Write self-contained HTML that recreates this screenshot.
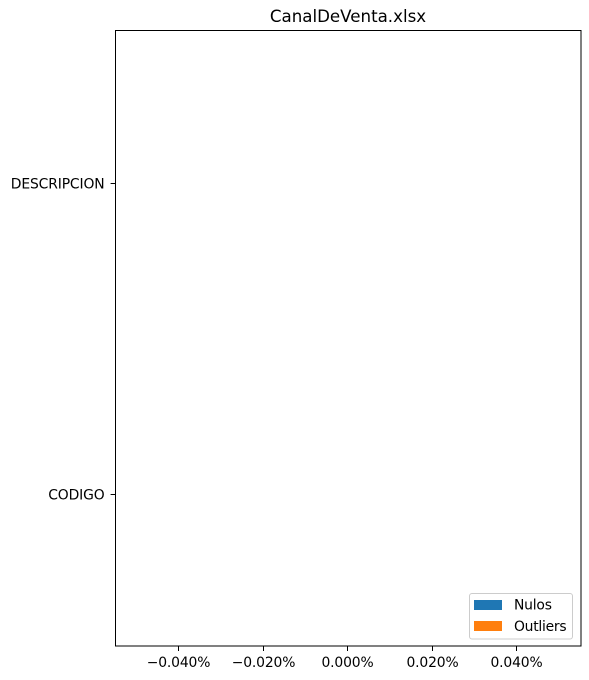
<!DOCTYPE html>
<html lang="es">
<head>
<meta charset="utf-8">
<title>CanalDeVenta.xlsx</title>
<style>
html,body{margin:0;padding:0;background:#fff;width:589px;height:680px;overflow:hidden}
svg{display:block}
text{font-family:"DejaVu Sans","Liberation Sans",sans-serif;fill:#000}
</style>
</head>
<body>
<svg id="chart" xmlns="http://www.w3.org/2000/svg" width="589" height="680" viewBox="0 0 589 680">
<rect x="0" y="0" width="589" height="680" fill="#fff"/>
<text x="348" y="22" font-size="16.67" text-anchor="middle">CanalDeVenta.xlsx</text>
<g id="bars"></g>
<g id="x-axis"></g>
<g id="y-axis"></g>
<rect x="115.5" y="30.5" width="465.5" height="615.5" fill="none" stroke="#000" stroke-width="1"/>
<g>
<rect x="469.5" y="593.5" width="103" height="45.5" rx="2.5" fill="#fff" fill-opacity="0.8" stroke="#ccc" stroke-width="1"/>
<rect x="474" y="600" width="28" height="10" fill="#1f77b4"/>
<text x="514" y="609.5" font-size="13.89" letter-spacing="-0.2">Nulos</text>
<rect x="474" y="621" width="28" height="10" fill="#ff7f0e"/>
<text x="514" y="631" font-size="13.89" letter-spacing="-0.25">Outliers</text>
</g>
</svg>
<script>
const categories = ["CODIGO", "DESCRIPCION"];
const nulos = [0, 0];
const outliers = [0, 0];
const xTicks = [-0.04, -0.02, 0, 0.02, 0.04];

const NS = "http://www.w3.org/2000/svg";
const xAxisScale = v => 347.75 + v * 4230;
const yAxisScale = i => 494 - i * 310.5;
const barBand = 0.8 * 310.5;

function xTickLabel(v) {
  const s = Math.abs(v).toFixed(3) + "%";
  return v < 0 ? "\u2212" + s : s;
}

const barsGroup = document.getElementById("bars");
const xGroup = document.getElementById("x-axis");
const yGroup = document.getElementById("y-axis");

categories.forEach((name, i) => {
  const yc = yAxisScale(i);

  const barN = document.createElementNS(NS, "rect");
  
  
  barN.setAttribute("x", Math.min(xAxisScale(0), xAxisScale(nulos[i])));
  barN.setAttribute("y", yc - barBand / 2);
  barN.setAttribute("width", Math.abs(xAxisScale(nulos[i]) - xAxisScale(0)));
  barN.setAttribute("height", barBand);
  barN.setAttribute("fill", "#1f77b4");
  barsGroup.appendChild(barN);

  const barO = document.createElementNS(NS, "rect");
  
  
  barO.setAttribute("x", Math.min(xAxisScale(nulos[i]), xAxisScale(nulos[i] + outliers[i])));
  barO.setAttribute("y", yc - barBand / 2);
  barO.setAttribute("width", Math.abs(xAxisScale(outliers[i]) - xAxisScale(0)));
  barO.setAttribute("height", barBand);
  barO.setAttribute("fill", "#ff7f0e");
  barsGroup.appendChild(barO);

  const py = Math.round(yc - 0.5) + 0.5;
  const tick = document.createElementNS(NS, "line");
  
  
  tick.setAttribute("x1", 110.6);
  tick.setAttribute("x2", 115.5);
  tick.setAttribute("y1", py);
  tick.setAttribute("y2", py);
  tick.setAttribute("stroke", "#000");
  tick.setAttribute("stroke-width", 1);
  yGroup.appendChild(tick);

  const label = document.createElementNS(NS, "text");
  
  
  label.setAttribute("x", 104.5);
  label.setAttribute("y", py + 5);
  label.setAttribute("font-size", 13.89);
  label.setAttribute("letter-spacing", -0.13);
  label.setAttribute("text-anchor", "end");
  label.textContent = name;
  yGroup.appendChild(label);
});

xTicks.forEach(v => {
  const px = Math.round(xAxisScale(v) - 0.5) + 0.5;
  const tick = document.createElementNS(NS, "line");
  
  
  tick.setAttribute("x1", px);
  tick.setAttribute("x2", px);
  tick.setAttribute("y1", 646);
  tick.setAttribute("y2", 651);
  tick.setAttribute("stroke", "#000");
  tick.setAttribute("stroke-width", 1);
  xGroup.appendChild(tick);

  const label = document.createElementNS(NS, "text");
  
  
  label.setAttribute("x", px);
  label.setAttribute("y", 667);
  label.setAttribute("font-size", 13.89);
  label.setAttribute("letter-spacing", -0.14);
  label.setAttribute("text-anchor", "middle");
  label.textContent = xTickLabel(v);
  xGroup.appendChild(label);
});
</script>
</body>
</html>
